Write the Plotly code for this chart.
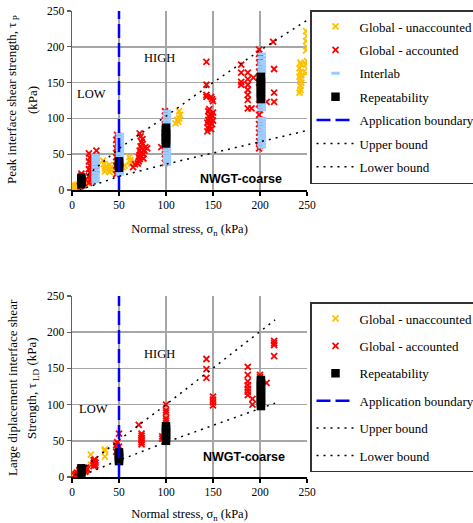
import plotly.graph_objects as go

# ---------------- TOP PANEL DATA (peak strength) ----------------
top_unacc_x = [2, 3, 4, 5, 5, 6, 7, 8, 3, 9, 13, 14, 16, 15,
               33, 34, 35, 35, 36, 40, 41, 42, 40, 54, 56, 61, 62, 63, 62,
               110, 113, 114, 115, 114, 112,
               242, 243, 243, 244, 243, 242, 244, 243, 242, 244, 243,
               249, 250, 249, 250, 249, 250, 249, 250, 249]
top_unacc_y = [1, 3, 5, 2, 7, 4, 8, 3, 6, 6, 9, 12, 10, 14,
               41, 36, 30, 26, 33, 25, 29, 32, 35, 32, 34, 46, 42, 37, 40,
               93, 95, 100, 105, 110, 98,
               136, 140, 145, 150, 155, 158, 160, 165, 170, 175, 178,
               163, 170, 176, 180, 195, 200, 208, 215, 222]

top_acc_x = [9, 10, 9, 10, 9, 10, 10,
             18, 19, 18, 19, 18, 19, 18, 19, 18,
             22, 23, 22, 23, 22, 23, 22,
             25, 26, 25, 26, 26,
             47, 48, 47, 48, 47, 48, 47, 48, 47, 48, 49, 49, 49, 49, 49,
             65, 67, 70, 71, 72, 71, 72, 73, 72, 74, 73, 75, 74, 75, 73, 72, 76, 77, 78, 80, 76,
             95,
             99, 99, 99, 99, 99, 99, 99, 99, 99, 99, 99, 99, 99,
             143, 143, 143, 143, 148, 149, 150,
             144, 145, 146, 144, 145, 146, 147, 145, 148, 149, 150, 148, 147, 149, 150, 146,
             180, 180, 180, 180,
             187, 187, 187, 187, 187, 187, 187, 191, 193,
             199, 199, 200, 199, 200, 199, 200, 199, 200, 199, 200, 199, 200, 199, 200, 199, 200, 199, 200, 199,
             207, 214, 215, 215, 215]
top_acc_y = [5, 8, 11, 14, 17, 20, 23,
             10, 14, 19, 24, 29, 34, 40, 45, 51,
             12, 17, 23, 28, 33, 38, 44,
             20, 28, 36, 45, 55,
             22, 28, 34, 40, 46, 52, 58, 64, 70, 77, 25, 37, 49, 61, 73,
             32, 36, 37, 40, 43, 46, 49, 52, 55, 58, 61, 64, 67, 71, 75, 79, 50, 55, 60, 58, 44,
             60,
             38, 44, 50, 56, 62, 68, 74, 80, 86, 92, 98, 104, 110,
             179, 147, 133, 130, 130, 127, 124,
             82, 86, 90, 94, 98, 102, 106, 110, 85, 92, 97, 100, 95, 104, 108, 113,
             175, 164, 151, 147,
             164, 155, 147, 140, 133, 126, 114, 114, 157,
             196, 190, 185, 178, 172, 165, 158, 150, 143, 120, 112, 105, 98, 92, 86, 80, 74, 68, 62, 58,
             123, 207, 169, 136, 123]

top_inter_x = [25, 25, 25, 25, 25, 25, 25, 25, 25, 25,
               51, 51, 51, 51, 51, 51, 51, 51, 51, 51, 51, 51, 51, 51, 51,
               101, 101, 101, 101, 101, 101, 101, 101, 101, 101, 101, 101, 101, 101,
               202, 202, 202, 202, 202, 202, 202, 202, 202, 202, 202, 202, 202, 202, 202,
               202, 202, 202, 202, 202, 202, 202]
top_inter_y = [12, 16, 20, 24, 28, 32, 36, 40, 44, 48,
               22, 26, 30, 34, 38, 42, 46, 50, 54, 58, 62, 66, 70, 74, 78,
               36, 40, 44, 48, 52, 56, 60, 64, 90, 94, 98, 102, 106, 110,
               60, 64, 68, 72, 76, 80, 84, 88, 92, 96, 100, 112, 116, 120, 124,
               164, 168, 172, 176, 180, 185, 190]

top_rep_x = [10, 10, 10, 10,
             50, 50, 50, 50,
             100, 100, 100, 100, 100, 100, 100, 100,
             201, 201, 201, 201, 201, 201, 201, 201, 201]
top_rep_y = [8, 11, 14, 17,
             31, 34, 37, 40,
             65, 68, 71, 74, 77, 80, 83, 87,
             127, 131, 135, 139, 143, 147, 151, 155, 158]

top_upper_x = [5, 50, 100, 150, 200, 250]
top_upper_y = [8, 58, 103, 150, 195, 237]
top_lower_x = [8, 50, 100, 150, 200, 250]
top_lower_y = [0, 19, 36, 52, 68, 83]

# ---------------- BOTTOM PANEL DATA (large displacement) ----------------
bot_unacc_x = [2, 3, 4, 5, 6, 3, 20, 20, 35, 35, 35]
bot_unacc_y = [2, 4, 1, 3, 5, 0, 31, 17, 38, 36, 28]

bot_acc_x = [3, 4, 5, 6, 7, 8, 8, 9,
             14, 15, 16, 15,
             23, 24, 23, 24, 23, 24, 25, 25,
             47, 48, 47, 48, 49, 50, 50, 50,
             71, 74, 74, 74, 74, 74, 74,
             96, 96,
             100, 100, 100, 100, 100, 100, 100, 100,
             143, 143, 143,
             150, 150, 150, 150,
             187, 187, 187, 187, 187, 187, 187, 192, 192,
             200, 200, 207,
             215, 215, 215, 215]
bot_acc_y = [2, 4, 6, 3, 5, 8, 10, 3,
             7, 9, 11, 13,
             15, 17, 19, 21, 23, 24, 16, 20,
             35, 40, 44, 48, 38, 33, 42, 60,
             72, 45, 48, 51, 54, 57, 60,
             53, 56,
             62, 67, 72, 78, 81, 89, 92, 100,
             137, 149, 163,
             99, 103, 107, 111,
             113, 118, 122, 127, 132, 141, 152, 100, 108,
             138, 141, 130,
             167, 182, 185, 188]

bot_rep_x = [10, 10, 10, 10,
             50, 50, 50, 50, 50,
             100, 100, 100, 100, 100, 100,
             201, 201, 201, 201, 201, 201, 201, 201, 201, 201]
bot_rep_y = [6, 8, 10, 12,
             22, 25, 28, 31, 34,
             50, 54, 58, 62, 66, 70,
             98, 102, 106, 110, 114, 118, 122, 126, 130, 134]

bot_upper_x = [3, 50, 100, 150, 200, 216]
bot_upper_y = [3, 51, 100, 150, 200, 217]
bot_lower_x = [12, 50, 100, 150, 200, 216]
bot_lower_y = [3, 23, 48, 71, 95, 102]

boundary_x = [50, 50]
boundary_y = [0, 250]

tick_vals = [0, 50, 100, 150, 200, 250]

# ---------------- STYLE ----------------
SERIF = "Liberation Serif, Times New Roman, serif"
SANS = "Liberation Sans, Arial, sans-serif"
GOLD = "#FFC000"
RED = "#FF0000"
LBLUE = "#99CCFF"
BLUE = "#0000FF"

fig = go.Figure()


def add_panel(sfx, legend, unacc, acc, inter, rep, upper, lower):
    xa, ya = "x" + sfx, "y" + sfx
    fig.add_trace(go.Scatter(
        x=unacc[0], y=unacc[1], mode="markers", name="Global - unaccounted",
        xaxis=xa, yaxis=ya, legend=legend, legendgroup=legend + "a",
        marker=dict(symbol="x-thin", size=6, color=GOLD,
                    line=dict(color=GOLD, width=1.8))))
    fig.add_trace(go.Scatter(
        x=acc[0], y=acc[1], mode="markers", name="Global - accounted",
        xaxis=xa, yaxis=ya, legend=legend, legendgroup=legend + "b",
        marker=dict(symbol="x-thin", size=6, color=RED,
                    line=dict(color=RED, width=1.8))))
    if inter is not None:
        fig.add_trace(go.Scatter(
            x=inter[0], y=inter[1], mode="markers", name="Interlab",
            xaxis=xa, yaxis=ya, legend=legend, legendgroup=legend + "c",
            marker=dict(symbol="line-ew", size=6, color=LBLUE,
                        line=dict(color=LBLUE, width=3))))
    fig.add_trace(go.Scatter(
        x=rep[0], y=rep[1], mode="markers", name="Repeatability",
        xaxis=xa, yaxis=ya, legend=legend, legendgroup=legend + "d",
        marker=dict(symbol="square", size=8.5, color="black")))
    fig.add_trace(go.Scatter(
        x=boundary_x, y=boundary_y, mode="lines", name="Application boundary",
        xaxis=xa, yaxis=ya, legend=legend, legendgroup=legend + "e",
        line=dict(color=BLUE, width=2.5, dash="14px,5px")))
    fig.add_trace(go.Scatter(
        x=upper[0], y=upper[1], mode="lines", name="Upper bound",
        xaxis=xa, yaxis=ya, legend=legend, legendgroup=legend + "f",
        line=dict(color="black", width=1.5, dash="2px,5px")))
    fig.add_trace(go.Scatter(
        x=lower[0], y=lower[1], mode="lines", name="Lower bound",
        xaxis=xa, yaxis=ya, legend=legend, legendgroup=legend + "g",
        line=dict(color="black", width=1.5, dash="2px,5px")))


add_panel("", "legend", (top_unacc_x, top_unacc_y), (top_acc_x, top_acc_y),
          (top_inter_x, top_inter_y), (top_rep_x, top_rep_y),
          (top_upper_x, top_upper_y), (top_lower_x, top_lower_y))
add_panel("2", "legend2", (bot_unacc_x, bot_unacc_y), (bot_acc_x, bot_acc_y),
          None, (bot_rep_x, bot_rep_y),
          (bot_upper_x, bot_upper_y), (bot_lower_x, bot_lower_y))

W, H = 473, 523
ML, MR, MT, MB = 72, 166, 11, 46
PH = H - MT - MB


def py(pix):
    return (H - MB - pix) / PH


xcommon = dict(range=[0, 250], tickvals=tick_vals, showgrid=True,
               gridcolor="#A6A6A6", gridwidth=1.5, zeroline=False,
               showline=True, linecolor="black", linewidth=1.5,
               ticks="outside", ticklen=4, tickwidth=1.2, tickcolor="black",
               tickfont=dict(family=SERIF, size=11.5, color="black"),
               automargin=False)
ycommon = dict(range=[0, 250], tickvals=tick_vals, showgrid=True,
               gridcolor="#A6A6A6", gridwidth=1.5, zeroline=False,
               showline=True, linecolor="#606060", linewidth=1.5,
               ticks="outside", ticklen=4, tickwidth=1.2, tickcolor="#606060",
               tickfont=dict(family=SERIF, size=11.5, color="black"),
               automargin=False)

xtitle = "Normal stress, σ<sub>n</sub> (kPa)"

fig.update_layout(
    width=W, height=H,
    margin=dict(l=ML, r=MR, t=MT, b=MB, autoexpand=False),
    paper_bgcolor="white", plot_bgcolor="white",
    font=dict(family=SERIF, size=12.5, color="black"),
    xaxis=dict(xcommon, anchor="y", domain=[0, 1],
               title=dict(text=xtitle, standoff=14,
                          font=dict(family=SERIF, size=12.5))),
    yaxis=dict(ycommon, anchor="x", domain=[py(190), 1]),
    xaxis2=dict(xcommon, anchor="y2", domain=[0, 1],
                title=dict(text=xtitle, standoff=15,
                           font=dict(family=SERIF, size=12.5))),
    yaxis2=dict(ycommon, anchor="x2", domain=[0, py(296)]),
    legend=dict(x=(310 - ML) / 235, xanchor="left", y=py(10), yanchor="top",
                bgcolor="white", bordercolor="#333333", borderwidth=1.5,
                font=dict(family=SERIF, size=13, color="black"),
                traceorder="grouped", tracegroupgap=3.5, itemwidth=38),
    legend2=dict(x=(310 - ML) / 235, xanchor="left", y=py(302), yanchor="top",
                 bgcolor="white", bordercolor="#333333", borderwidth=1.5,
                 font=dict(family=SERIF, size=13, color="black"),
                 traceorder="grouped", tracegroupgap=7.5, itemwidth=38),
    showlegend=True,
)

ann = []
# y-axis titles (two lines each)
for txt, xs, yc in [
    ("Peak interface shear strength, τ<sub> P</sub>", 13, 100),
    ("(kPa)", 33, 100),
    ("Large diplacement interface shear", 12, 388),
    ("Strength, τ<sub> LD</sub> (kPa)", 32, 388),
]:
    ann.append(dict(text=txt, xref="paper", yref="paper", x=0, y=py(yc),
                    xshift=xs - ML, xanchor="center", yanchor="middle",
                    textangle=-90, showarrow=False,
                    font=dict(family=SERIF, size=13, color="black")))
# region labels
for xr, yr, x, y, t in [("x", "y", 93.6, 185, "HIGH"), ("x", "y", 21, 134, "LOW"),
                        ("x2", "y2", 93.6, 170, "HIGH"), ("x2", "y2", 22.7, 94, "LOW")]:
    ann.append(dict(text=t, xref=xr, yref=yr, x=x, y=y, showarrow=False,
                    font=dict(family=SERIF, size=12.5, color="black")))
for xr, yr, x, y in [("x", "y", 179.6, 15.4), ("x2", "y2", 183, 27)]:
    ann.append(dict(text="<b>NWGT-coarse</b>", xref=xr, yref=yr, x=x, y=y,
                    showarrow=False,
                    font=dict(family=SANS, size=12.5, color="black")))
fig.update_layout(annotations=ann)

fig.write_html("out.html",
               config={"displayModeBar": False, "staticPlot": True},
               post_script="document.body.style.margin='0px';document.body.style.padding='0px';")
